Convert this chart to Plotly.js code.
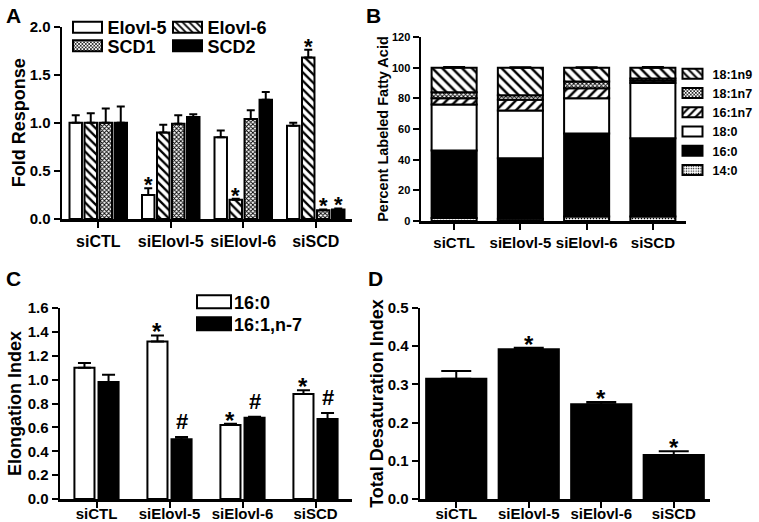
<!DOCTYPE html>
<html><head><meta charset="utf-8">
<script src="https://cdn.plot.ly/plotly-3.0.1.min.js"></script>
<style>html,body{margin:0;padding:0;background:#fff}</style>
</head><body><div id="chart" style="width:759px;height:522px"></div>
<script>
// ---------- DATA ----------
const groups = ['siCTL', 'siElovl-5', 'siElovl-6', 'siSCD'];

// Panel A: Fold Response
const elovl5 = [1.00, 0.25, 0.85, 0.97];
const elovl5Err = [0.08, 0.07, 0.07, 0.03];
const elovl5Sig = [0, 1, 0, 0];
const elovl6 = [1.00, 0.90, 0.20, 1.68];
const elovl6Err = [0.10, 0.08, 0.01, 0.08];
const elovl6Sig = [0, 0, 1, 1];
const scd1 = [1.00, 0.99, 1.04, 0.09];
const scd1Err = [0.15, 0.09, 0.09, 0.01];
const scd1Sig = [0, 0, 0, 1];
const scd2 = [1.00, 1.06, 1.24, 0.10];
const scd2Err = [0.17, 0.03, 0.08, 0.01];
const scd2Sig = [0, 0, 0, 1];

// Panel B: Percent labeled fatty acid (stack bottom -> top)
const fa14_0 = [2.0, 1.5, 3.0, 3.0];
const fa16_0 = [44.0, 39.5, 54.0, 51.0];
const fa18_0 = [30.0, 31.0, 23.0, 36.0];
const fa16_1n7 = [4.0, 7.0, 6.5, 1.5];
const fa18_1n7 = [4.0, 3.0, 4.5, 1.5];
const fa18_1n9 = [16.0, 18.0, 9.0, 7.0];
const faTopErr = [0.5, 0.3, 0.3, 0.4];

// Panel C: Elongation index
const el16_0 = [1.10, 1.32, 0.62, 0.88];
const el16_0Err = [0.04, 0.05, 0.01, 0.03];
const el16_0Sig = [0, 1, 1, 1];
const el16_1 = [0.98, 0.50, 0.68, 0.67];
const el16_1Err = [0.06, 0.02, 0.01, 0.05];
const el16_1Sig = [0, 1, 1, 1];

// Panel D: Total desaturation index
const tdi = [0.315, 0.392, 0.248, 0.115];
const tdiErr = [0.020, 0.004, 0.006, 0.010];
const tdiSig = [0, 1, 1, 1];

// ---------- STYLE HELPERS ----------
const FONT = 'Liberation Sans, Arial, sans-serif';
function f(size) { return {family: FONT, size: size, color: '#000', weight: 'bold'}; }
const W = 759, H = 522;
const px = v => v / W, py = v => 1 - v / H;
const LINE = {color: '#000', width: 2};
const pat = (shape, size, solidity) => ({shape, size, solidity, fgcolor: '#000', bgcolor: '#fff', fillmode: 'replace'});
const zeros = n => new Array(n).fill(0);

function errUp(arr, w) {
  return {type: 'data', array: arr, arrayminus: zeros(arr.length), symmetric: false,
          color: '#000', thickness: 2, width: w, visible: true};
}

const traces = [];
const annotations = [];

function starAnns(xaxisId, yaxisId, vals, errs, sig, center, sym, size, shift) {
  vals.forEach((v, i) => {
    if (!sig[i]) return;
    annotations.push({xref: xaxisId, yref: yaxisId, x: i + center, y: v + errs[i],
      text: sym, showarrow: false, yanchor: 'bottom', xanchor: 'center', yshift: shift, font: f(size)});
  });
}

// ---------- PANEL A ----------
const aW = 0.172, aSlot = 0.207, aStart = -2 * aSlot;
const aSeries = [
  {name: 'Elovl-5', y: elovl5, e: elovl5Err, s: elovl5Sig, marker: {color: '#fff', line: LINE}, legend: 'legend'},
  {name: 'Elovl-6', y: elovl6, e: elovl6Err, s: elovl6Sig, marker: {color: '#fff', line: LINE, pattern: pat('\\', 6, 0.38)}, legend: 'legend2'},
  {name: 'SCD1', y: scd1, e: scd1Err, s: scd1Sig, marker: {color: '#fff', line: LINE, pattern: pat('x', 3, 0.5)}, legend: 'legend3'},
  {name: 'SCD2', y: scd2, e: scd2Err, s: scd2Sig, marker: {color: '#000', line: LINE}, legend: 'legend4'}
];
aSeries.forEach((s, k) => {
  const off = aStart + k * aSlot + (aSlot - aW) / 2;
  traces.push({type: 'bar', name: s.name, x: groups, y: s.y, xaxis: 'x', yaxis: 'y',
    width: aW, offset: off, marker: s.marker, error_y: errUp(s.e, 4), legend: s.legend, hoverinfo: 'skip'});
  starAnns('x', 'y', s.y, s.e, s.s, off + aW / 2, '*', 22, -11);
});

// ---------- PANEL B ----------
const bW = 0.68;
const bSeries = [
  {name: '14:0', y: fa14_0, marker: {color: '#fff', line: LINE, pattern: pat('.', 3, 0.25)}},
  {name: '16:0', y: fa16_0, marker: {color: '#000', line: LINE}},
  {name: '18:0', y: fa18_0, marker: {color: '#fff', line: LINE}},
  {name: '16:1n7', y: fa16_1n7, marker: {color: '#fff', line: LINE, pattern: pat('/', 7, 0.35)}},
  {name: '18:1n7', y: fa18_1n7, marker: {color: '#fff', line: LINE, pattern: pat('x', 3, 0.5)}},
  {name: '18:1n9', y: fa18_1n9, marker: {color: '#fff', line: LINE, pattern: pat('\\', 7, 0.35)}}
];
let cum = zeros(groups.length);
bSeries.forEach((s, k) => {
  const base = cum.slice();
  const tr = {type: 'bar', name: s.name, x: groups, y: s.y, base: base, xaxis: 'x2', yaxis: 'y2',
    width: bW, offset: -bW / 2, marker: s.marker, legend: 'legend5', hoverinfo: 'skip'};
  if (k === bSeries.length - 1) tr.error_y = errUp(faTopErr, 11);
  traces.push(tr);
  cum = cum.map((c, i) => c + s.y[i]);
});

// ---------- PANEL C ----------
const cW = 0.275, cGap = 0.055;
const cSeries = [
  {name: '16:0', y: el16_0, e: el16_0Err, s: el16_0Sig, sym: '*', marker: {color: '#fff', line: LINE}, legend: 'legend6'},
  {name: '16:1,n-7', y: el16_1, e: el16_1Err, s: el16_1Sig, sym: '#', marker: {color: '#000', line: LINE}, legend: 'legend7'}
];
cSeries.forEach((s, k) => {
  const off = -cW - cGap / 2 + k * (cW + cGap);
  traces.push({type: 'bar', name: s.name, x: groups, y: s.y, xaxis: 'x3', yaxis: 'y3',
    width: cW, offset: off, marker: s.marker, error_y: errUp(s.e, 6.5), legend: s.legend, hoverinfo: 'skip'});
  if (s.sym === '*') starAnns('x3', 'y3', s.y, s.e, s.s, off + cW / 2, '*', 24, -12);
  else starAnns('x3', 'y3', s.y, s.e, s.s, off + cW / 2, '#', 22, 1);
});

// ---------- PANEL D ----------
const dW = 0.83;
traces.push({type: 'bar', name: 'Total desaturation', x: groups, y: tdi, xaxis: 'x4', yaxis: 'y4',
  width: dW, offset: -dW / 2, marker: {color: '#000', line: LINE}, error_y: errUp(tdiErr, 15),
  showlegend: false, hoverinfo: 'skip'});
starAnns('x4', 'y4', tdi, tdiErr, tdiSig, 0, '*', 24, -12);

// ---------- PANEL LETTERS ----------
[['A', 4, 2], ['B', 364, 2], ['C', 4, 265], ['D', 366, 265]].forEach(([t, x, y]) => {
  annotations.push({xref: 'paper', yref: 'paper', x: px(x), y: py(y), xanchor: 'left', yanchor: 'top',
    text: t, showarrow: false, font: f(21)});
});

// ---------- AXES ----------
function xax(d0, d1, anchor, fs, lso) {
  return {domain: [px(d0), px(d1)], anchor: anchor, type: 'category', categoryorder: 'array', categoryarray: groups,
    range: [-0.5, 3.5], showline: true, linecolor: '#000', linewidth: 2.5, ticks: 'outside', ticklen: 6,
    tickwidth: 2, tickcolor: '#000', tickfont: f(fs), ticklabelstandoff: lso, showgrid: false, zeroline: false, fixedrange: true};
}
function yax(top, bottom, anchor, range, dtick, fmt, fs, title, tfs, standoff) {
  return {domain: [py(bottom), py(top)], anchor: anchor, range: range, dtick: dtick, tick0: 0, tickformat: fmt,
    showline: true, linecolor: '#000', linewidth: 2.5, ticks: 'outside', ticklen: 6, tickwidth: 2, tickcolor: '#000',
    tickfont: f(fs), showgrid: false, zeroline: false, fixedrange: true,
    title: {text: title, font: f(tfs), standoff: standoff}};
}

const legBase = {bgcolor: 'rgba(0,0,0,0)', borderwidth: 0, xanchor: 'left', yanchor: 'middle',
  itemclick: false, itemdoubleclick: false};

const layout = {
  width: W, height: H, margin: {l: 0, r: 0, t: 0, b: 0}, paper_bgcolor: '#fff', plot_bgcolor: '#fff',
  barmode: 'overlay', showlegend: true, font: f(14),
  xaxis: xax(62, 352, 'y', 16, 0),
  yaxis: yax(26.7, 219, 'x', [0, 2], 0.5, '.1f', 15, 'Fold Response', 18, 0),
  xaxis2: xax(421, 686, 'y2', 15, 0),
  yaxis2: yax(37, 221, 'x2', [0, 120], 20, 'd', 11, 'Percent Labeled Fatty Acid', 14.5, 0),
  xaxis3: xax(60, 352, 'y3', 15, -7),
  yaxis3: yax(308, 499, 'x3', [0, 1.6], 0.2, '.1f', 15, 'Elongation Index', 18, 2),
  xaxis4: xax(420, 710, 'y4', 15, -7),
  yaxis4: yax(308, 499, 'x4', [0, 0.5], 0.1, '.1f', 15, 'Total Desaturation Index', 18, 0),
  legend: Object.assign({}, legBase, {x: px(67.5), y: py(27.5), font: f(18)}),
  legend2: Object.assign({}, legBase, {x: px(167.5), y: py(27.5), font: f(18)}),
  legend3: Object.assign({}, legBase, {x: px(67.5), y: py(46), font: f(18)}),
  legend4: Object.assign({}, legBase, {x: px(167.5), y: py(46), font: f(18)}),
  legend5: Object.assign({}, legBase, {x: px(672.5), y: py(122), font: f(12.5), traceorder: 'reversed'}),
  legend6: Object.assign({}, legBase, {x: px(194), y: py(302), font: f(18)}),
  legend7: Object.assign({}, legBase, {x: px(194), y: py(324), font: f(18)}),
  annotations: annotations
};

Plotly.newPlot('chart', traces, layout, {staticPlot: true, displayModeBar: false}).then(() => {
  const spec = {legend: [14.5, 5.5], legend2: [14.5, 5.5], legend3: [14.5, 5.5], legend4: [14.5, 5.5],
                legend5: [10, 5], legend6: [17, 6.5], legend7: [17, 6.5]};
  Object.keys(spec).forEach(k => {
    const g = document.querySelector('.infolayer g.' + k);
    if (!g) return;
    const [hw, hh] = spec[k];
    g.querySelectorAll('g.legendpoints path').forEach(p => p.setAttribute('d', `M${hw},${hh}H${-hw}V${-hh}H${hw}Z`));
  });
});
</script>
</body></html>
